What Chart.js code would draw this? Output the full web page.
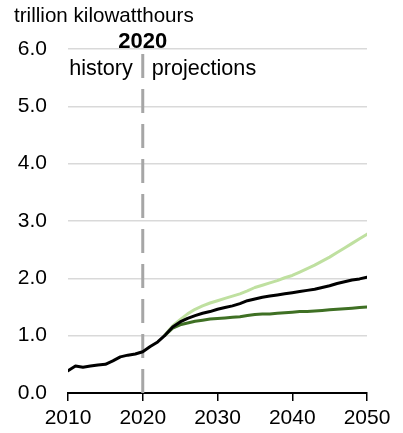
<!DOCTYPE html>
<html>
<head>
<meta charset="utf-8">
<script src="https://cdn.jsdelivr.net/npm/chart.js@4/dist/chart.umd.min.js"></script>
<style>
	html,body{margin:0;padding:0;background:#fff;}
	#wrap{position:relative;width:403px;height:433px;}
</style>
</head>
<body>
<div id="wrap"><canvas id="c" width="403" height="433"></canvas></div>
<script>
const years=[2010,2011,2012,2013,2014,2015,2016,2017,2018,2019,2020,2021,2022,2023,2024,2025,2026,2027,2028,2029,2030,2031,2032,2033,2034,2035,2036,2037,2038,2039,2040,2041,2042,2043,2044,2045,2046,2047,2048,2049,2050];
const reference=[0.39,0.47,0.45,0.47,0.49,0.50,0.56,0.63,0.66,0.68,0.72,0.81,0.89,1.01,1.15,1.24,1.30,1.35,1.39,1.42,1.46,1.49,1.52,1.56,1.61,1.64,1.67,1.69,1.71,1.73,1.75,1.77,1.79,1.81,1.84,1.87,1.91,1.94,1.97,1.99,2.02];
const projYears=[2023,2024,2025,2026,2027,2028,2029,2030,2031,2032,2033,2034,2035,2036,2037,2038,2039,2040,2041,2042,2043,2044,2045,2046,2047,2048,2049,2050];
const highCase=[1.02,1.17,1.28,1.38,1.46,1.52,1.57,1.61,1.65,1.69,1.73,1.78,1.84,1.88,1.92,1.96,2.01,2.05,2.11,2.17,2.23,2.30,2.37,2.45,2.53,2.61,2.69,2.77];
const lowCase=[1.01,1.13,1.19,1.22,1.25,1.27,1.29,1.30,1.31,1.32,1.33,1.35,1.37,1.38,1.38,1.39,1.40,1.41,1.42,1.42,1.43,1.44,1.45,1.46,1.47,1.48,1.49,1.50];
const xTicks=[2010,2020,2030,2040,2050];
const yTicks=[0,1,2,3,4,5,6];
const divideYear=2020;

const pts=(xs,ys)=>xs.map((x,i)=>({x:x,y:ys[i]}));

const font='"Liberation Sans", Arial, sans-serif';

// dashed 2020 line + labels
const annotations={
	id:'annotations',
	beforeDatasetsDraw(chart){
		let ctx=chart.ctx, a=chart.chartArea;
		let x=chart.scales.x.getPixelForValue(divideYear);
		ctx.save();
		ctx.strokeStyle='#a6a6a6';
		ctx.lineWidth=3;
		ctx.setLineDash([24,11]);
		ctx.beginPath();
		ctx.moveTo(x,a.bottom);
		ctx.lineTo(x,a.top);
		ctx.stroke();
		ctx.restore();
	},
	afterDraw(chart){
		let ctx=chart.ctx;
		let x=chart.scales.x.getPixelForValue(divideYear);
		ctx.save();
		ctx.fillStyle='#000';
		ctx.textBaseline='alphabetic';
		ctx.font='20.6px '+font;
		ctx.textAlign='left';
		ctx.fillText('trillion kilowatthours',14,22);
		ctx.font='bold 22px '+font;
		ctx.textAlign='center';
		ctx.fillText('2020',x,48);
		ctx.font='21.6px '+font;
		ctx.textAlign='right';
		ctx.fillText('history',x-10,75);
		ctx.textAlign='left';
		ctx.fillText('projections',x+9,75);
		ctx.restore();
	}
};

new Chart(document.getElementById('c'),{
	type:'line',
	data:{
		datasets:[
			{data:pts(years,reference),borderColor:'#000000',borderWidth:3},
			{data:pts(projYears,highCase),borderColor:'#bfe0a0',borderWidth:3},
			{data:pts(projYears,lowCase),borderColor:'#3f7024',borderWidth:3}
		]
	},
	options:{
		responsive:false,
		animation:false,
		parsing:{xAxisKey:'x',yAxisKey:'y'},
		elements:{point:{radius:0},line:{tension:0,borderCapStyle:'round',borderJoinStyle:'round'}},
		layout:{padding:{top:49,right:36,bottom:0,left:0}},
		plugins:{legend:{display:false},tooltip:{enabled:false}},
		scales:{
			x:{
				type:'linear',
				min:xTicks[0],
				max:xTicks[xTicks.length-1],
				afterBuildTicks:(s)=>{s.ticks=xTicks.map((v)=>({value:v}))},
				afterFit:(s)=>{s.height=40},
				grid:{drawOnChartArea:false,color:'#000',lineWidth:1.5,tickLength:8},
				border:{color:'#000',width:2},
				ticks:{color:'#000',font:{family:font,size:21},padding:5,maxRotation:0,callback:(v)=>String(v)}
			},
			y:{
				min:yTicks[0],
				max:yTicks[yTicks.length-1],
				afterBuildTicks:(s)=>{s.ticks=yTicks.map((v)=>({value:v}))},
				afterFit:(s)=>{s.width=68},
				grid:{color:'#d9d9d9',lineWidth:1.5,drawTicks:false},
				border:{display:false},
				ticks:{color:'#000',font:{family:font,size:21},padding:21,callback:(v)=>v.toFixed(1)}
			}
		}
	},
	plugins:[annotations]
});
</script>
</body>
</html>
